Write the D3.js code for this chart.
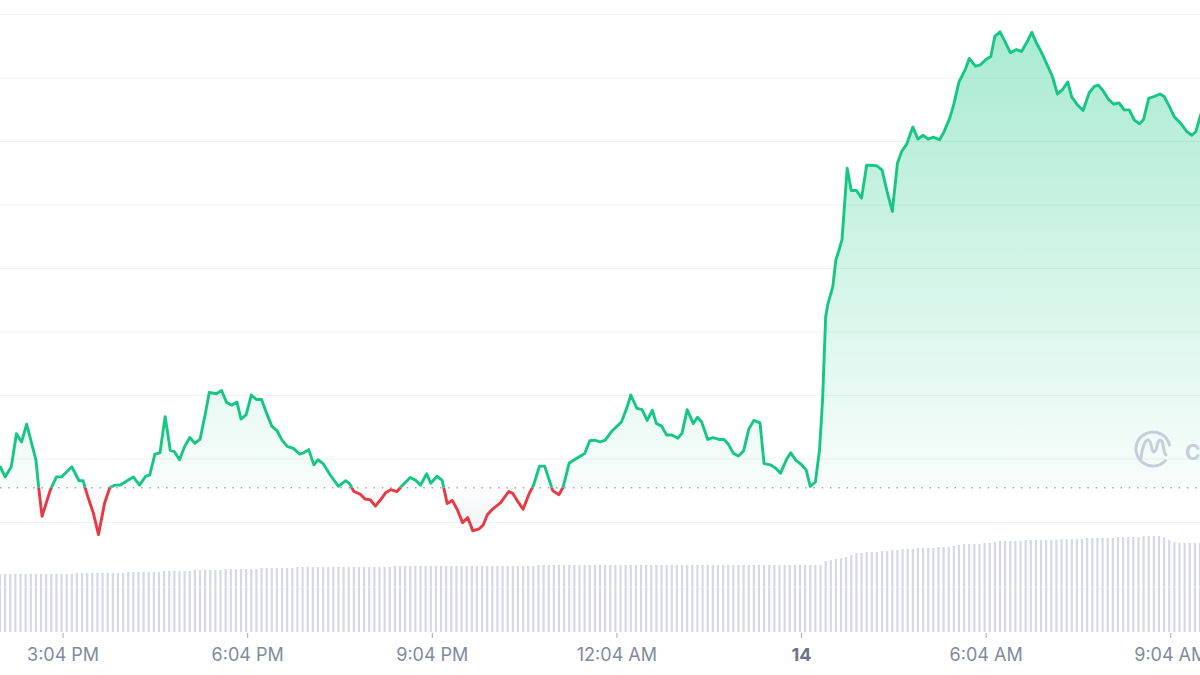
<!DOCTYPE html>
<html><head><meta charset="utf-8">
<script src="https://cdn.jsdelivr.net/npm/d3@7"></script>
<style>html,body{margin:0;padding:0;background:#fff;} svg{display:block;font-family:Inter,"Noto Sans",sans-serif;}</style>
</head><body><svg id="chart" width="1200" height="675"></svg>
<script>
// minutes since the left edge of the chart (≈2:02 PM)
const priceMinutes = [0,5,11,16,21,26,35,38,41,49,55,60,70,77,81,85,91,96,102,107,112,117,124,130,136,142,146,151,156,161,166,170,175,180,185,190,195,200,204,211,216,221,226,231,235,240,245,250,255,260,265,270,275,280,286,292,296,301,306,310,315,322,330,337,341,345,351,356,361,366,371,376,381,387,392,400,405,410,416,420,426,431,436,441,446,451,456,461,467,471,475,480,488,496,500,505,510,516,520,526,531,539,545,549,555,562,570,575,580,585,590,596,601,606,611,615,621,626,631,636,640,645,650,655,661,665,670,676,680,684,690,695,701,706,710,715,720,725,730,735,741,745,751,756,761,767,771,776,781,786,790,795,799,802,805,807,812,815,818,821,826,830,835,840,845,855,860,865,870,875,879,884,890,895,900,905,910,916,920,926,930,935,941,945,951,956,961,966,970,975,980,985,991,996,1001,1006,1010,1015,1021,1026,1031,1036,1041,1045,1050,1056,1062,1067,1071,1076,1081,1086,1091,1096,1101,1106,1111,1115,1120,1125,1131,1135,1140,1145,1151,1157,1162,1166,1170,1175];
const priceValues = [0.88,0.71,0.87,1.39,1.26,1.54,0.98,0.50,0.09,0.50,0.71,0.71,0.87,0.65,0.65,0.43,0.14,-0.20,0.30,0.54,0.58,0.58,0.65,0.71,0.58,0.72,0.74,1.07,1.09,1.66,1.13,1.11,0.98,1.19,1.33,1.24,1.30,1.69,2.04,2.02,2.07,1.88,1.84,1.89,1.62,1.69,2.00,1.93,1.93,1.71,1.51,1.44,1.29,1.19,1.16,1.07,1.09,1.14,0.90,0.98,0.92,0.74,0.56,0.65,0.60,0.48,0.44,0.36,0.35,0.25,0.35,0.46,0.51,0.48,0.57,0.70,0.66,0.58,0.76,0.61,0.72,0.66,0.29,0.34,0.19,-0.01,0.07,-0.14,-0.11,-0.05,0.11,0.20,0.30,0.48,0.45,0.32,0.20,0.45,0.57,0.88,0.88,0.49,0.43,0.55,0.93,1.00,1.08,1.28,1.29,1.26,1.29,1.42,1.50,1.58,1.79,2.00,1.79,1.77,1.60,1.76,1.55,1.51,1.37,1.37,1.32,1.40,1.77,1.55,1.65,1.58,1.30,1.33,1.30,1.30,1.23,1.08,1.04,1.12,1.46,1.60,1.56,0.92,0.90,0.85,0.77,0.99,1.09,0.97,0.91,0.82,0.56,0.63,1.13,1.92,3.23,3.42,3.71,4.13,4.28,4.45,5.57,5.22,5.22,5.10,5.62,5.61,5.54,5.20,4.89,5.65,5.83,5.95,6.22,6.03,6.09,6.03,6.06,6.02,6.13,6.36,6.58,6.93,7.12,7.30,7.18,7.20,7.28,7.33,7.65,7.72,7.56,7.39,7.44,7.41,7.55,7.71,7.56,7.41,7.20,7.02,6.74,6.81,6.93,6.69,6.58,6.48,6.76,6.86,6.88,6.78,6.65,6.58,6.60,6.49,6.49,6.33,6.27,6.34,6.67,6.70,6.74,6.70,6.55,6.38,6.28,6.15,6.09,6.15,6.38,6.62];
const openPrice = 0.54;
const volumeStep = 5;
const volumeValues = [
58,58,58,58,58,58,58,58,58,58,58,58,
58,58,58,59,59,59,59,59,59,59,59,59,
59,60,60,60,60,60,60,60,61,61,61,61,
61,61,62,62,62,62,62,62,63,63,63,63,
63,63,63,64,64,64,64,64,64,64,65,65,
65,65,65,65,65,65,65,65,65,65,65,65,
65,65,65,65,65,66,66,66,66,66,66,66,
66,66,66,66,66,66,66,66,66,66,66,66,
66,66,66,66,66,66,66,66,66,67,67,67,
67,67,67,67,67,67,67,67,67,67,67,67,
67,67,67,67,67,67,67,67,67,67,67,67,
67,67,67,67,67,67,67,67,67,67,67,67,
67,67,67,67,67,67,67,67,67,67,67,67,
67,67,67,67,67,71,72,73,74,75,77,79,
79,80,80,80,81,81,82,82,83,83,83,84,
84,84,84,85,85,85,86,87,88,88,88,88,
89,89,90,91,91,91,91,91,92,92,92,92,
92,92,92,93,93,93,93,93,94,94,94,94,
94,94,95,95,95,95,95,96,96,96,96,95,
92,90,89,89,89,89,89];
const gridValues = [0,1,2,3,4,5,6,7,8];
const tickMinutes = [61,241,421,601,781,961,1141];
const tickLabels = ["3:04 PM","6:04 PM","9:04 PM","12:04 AM","14","6:04 AM","9:04 AM"];

const W = 1200, H = 675;
const svg = d3.select("#chart");
const x = d3.scaleLinear().domain([0,1170]).range([0,W]);
const y = d3.scaleLinear().domain([0,8]).range([522,14]);
const yv = d3.scaleLinear().domain([0,100]).range([632,532]);
const yBase = y(openPrice);
const pts = priceMinutes.map((t,i)=>({t, v: priceValues[i]}));

const defs = svg.append("defs");
const gG = defs.append("linearGradient").attr("id","gGreen").attr("gradientUnits","userSpaceOnUse")
  .attr("x1",0).attr("x2",0).attr("y1",y(8)).attr("y2",yBase);
gG.append("stop").attr("offset",0).attr("stop-color","#16c784").attr("stop-opacity",0.38);
gG.append("stop").attr("offset",1).attr("stop-color","#16c784").attr("stop-opacity",0.03);
const gR = defs.append("linearGradient").attr("id","gRed").attr("gradientUnits","userSpaceOnUse")
  .attr("x1",0).attr("x2",0).attr("y1",yBase).attr("y2",y(-0.3));
gR.append("stop").attr("offset",0).attr("stop-color","#8f98b5").attr("stop-opacity",0.02);
gR.append("stop").attr("offset",1).attr("stop-color","#8f98b5").attr("stop-opacity",0.14);
defs.append("clipPath").attr("id","cAbove").append("rect").attr("x",0).attr("y",0).attr("width",W).attr("height",yBase);
defs.append("clipPath").attr("id","cBelow").append("rect").attr("x",0).attr("y",yBase).attr("width",W).attr("height",H-yBase);

// grid
const grid = svg.append("g").call(d3.axisLeft(y).tickValues(gridValues).tickSize(-W).tickFormat(""));
grid.select(".domain").remove();
grid.selectAll(".tick line").attr("stroke","#f0f1f4").attr("stroke-width",1.2);

// volume bars
svg.append("g").selectAll("rect").data(volumeValues).join("rect")
  .attr("x",(d,i)=>x(i*volumeStep)-1.1).attr("width",2.2)
  .attr("y",d=>yv(d)).attr("height",d=>yv(0)-yv(d))
  .attr("fill","#d4d8e7");
svg.append("line").attr("x1",0).attr("x2",W).attr("y1",587).attr("y2",587)
  .attr("stroke","#ffffff").attr("stroke-opacity",0.35).attr("stroke-width",1);

// areas
const area = d3.area().x(d=>x(d.t)).y0(yBase).y1(d=>y(d.v));
svg.append("path").datum(pts).attr("d",area).attr("fill","url(#gGreen)").attr("clip-path","url(#cAbove)");
svg.append("path").datum(pts).attr("d",area).attr("fill","url(#gRed)").attr("clip-path","url(#cBelow)");

// watermark
const wm = svg.append("g").attr("fill","none").attr("stroke","#c9ccd9").attr("stroke-width",3).attr("stroke-linecap","round");
wm.append("path").attr("d", d3.arc()({innerRadius:17,outerRadius:17,startAngle:Math.PI*0.72,endAngle:Math.PI*2+Math.PI*0.45})).attr("transform","translate(1153,449)");
wm.append("path").attr("d","M1141,458 C1142,448 1145,440 1148,440 C1152,440 1151,452 1154,452 C1157,452 1157,440 1160,440 C1164,440 1163,453 1166,455");
svg.append("text").attr("x",1185).attr("y",460).attr("font-size",21).attr("font-weight",700).attr("fill","#c9ccd9").text("CoinMarketCap");

// baseline
svg.append("line").attr("x1",0).attr("x2",W).attr("y1",yBase).attr("y2",yBase)
  .attr("stroke","#a3a8b6").attr("stroke-width",1.5).attr("stroke-dasharray","1.5 6.8");

// price line
const line = d3.line().x(d=>x(d.t)).y(d=>y(d.v));
svg.append("path").datum(pts).attr("d",line).attr("fill","none").attr("stroke","#16c784")
  .attr("stroke-width",2.9).attr("stroke-linejoin","round").attr("clip-path","url(#cAbove)");
svg.append("path").datum(pts).attr("d",line).attr("fill","none").attr("stroke","#ea3943")
  .attr("stroke-width",2.9).attr("stroke-linejoin","round").attr("clip-path","url(#cBelow)");

// x axis
const ax = svg.append("g").attr("transform","translate(0,633)")
  .call(d3.axisBottom(x).tickValues(tickMinutes).tickFormat((d,i)=>tickLabels[i]).tickSize(5).tickPadding(10));
ax.select(".domain").remove();
ax.selectAll(".tick line").attr("stroke","#a0a6b4");
ax.selectAll(".tick text").attr("font-size",18)
  .attr("font-family","Inter, 'Noto Sans', sans-serif")
  .attr("font-weight",(d,i)=>tickLabels[i]==="14"?700:400)
  .attr("fill",(d,i)=>tickLabels[i]==="14"?"#6a748a":"#808a9d");
</script></body></html>
